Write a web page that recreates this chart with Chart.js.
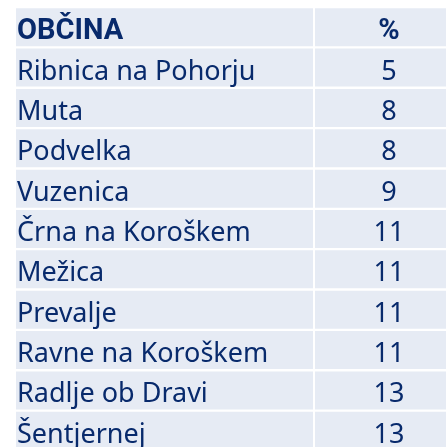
<!DOCTYPE html>
<html>
<head>
<meta charset="utf-8">
<script src="https://cdn.jsdelivr.net/npm/chart.js@4/dist/chart.umd.min.js"></script>
<style>
html, body { margin: 0; padding: 0; overflow: hidden; background: #fff; }
#wrap { position: relative; width: 480px; height: 460px; }
</style>
</head>
<body>
<div id="wrap"><canvas id="table" width="480" height="460"></canvas></div>
<script>
// table data
const header = ['OBČINA', '%']
const municipalities = ['Ribnica na Pohorju', 'Muta', 'Podvelka', 'Vuzenica', 'Črna na Koroškem',
    'Mežica', 'Prevalje', 'Ravne na Koroškem', 'Radlje ob Dravi', 'Šentjernej']
const shares = [5, 8, 8, 9, 11, 11, 11, 11, 13, 13]

// layout of the two columns on the hidden x scale
const NAME_COL = [0, 297]
const VALUE_COL = [299, 447]
const CELL_BG = '#e6ebf4'
const INK = '#082a6c'

const rows = [header[0], ...municipalities]
const values = [header[1], ...shares.map(String)]

const cellText = {
    id: 'cellText',
    afterDraw(chart) {
        const ctx = chart.ctx
        const names = chart.getDatasetMeta(0).data
        const nums = chart.getDatasetMeta(1).data
        ctx.save()
        ctx.fillStyle = INK
        ctx.textBaseline = 'alphabetic'
        rows.forEach((label, i) => {
            ctx.font = i === 0 ? 'bold 29px Roboto, sans-serif' : '27px "Noto Sans", sans-serif'
            const nb = names[i]
            ctx.textAlign = 'left'
            ctx.fillText(label, Math.min(nb.x, nb.base) + 1, nb.y + 12)
            const vb = nums[i]
            ctx.textAlign = 'center'
            ctx.fillText(values[i], (vb.x + vb.base) / 2, vb.y + 12)
        })
        ctx.restore()
    }
}

const cellStyle = {
    backgroundColor: CELL_BG,
    borderWidth: 0,
    barPercentage: 0.941,
    categoryPercentage: 1,
    grouped: false,
}

new Chart(document.getElementById('table'), {
    type: 'bar',
    data: {
        labels: rows,
        datasets: [
            { label: 'name', data: rows.map(() => NAME_COL), ...cellStyle },
            { label: 'value', data: rows.map(() => VALUE_COL), ...cellStyle },
        ]
    },
    options: {
        indexAxis: 'y',
        responsive: false,
        animation: false,
        layout: { padding: { left: 16, top: 7, right: 17, bottom: 9 } },
        scales: {
            x: { type: 'linear', min: 0, max: 447, display: false },
            y: { display: false },
        },
        plugins: {
            legend: { display: false },
            tooltip: { enabled: false },
        }
    },
    plugins: [cellText]
})
</script>
</body>
</html>
